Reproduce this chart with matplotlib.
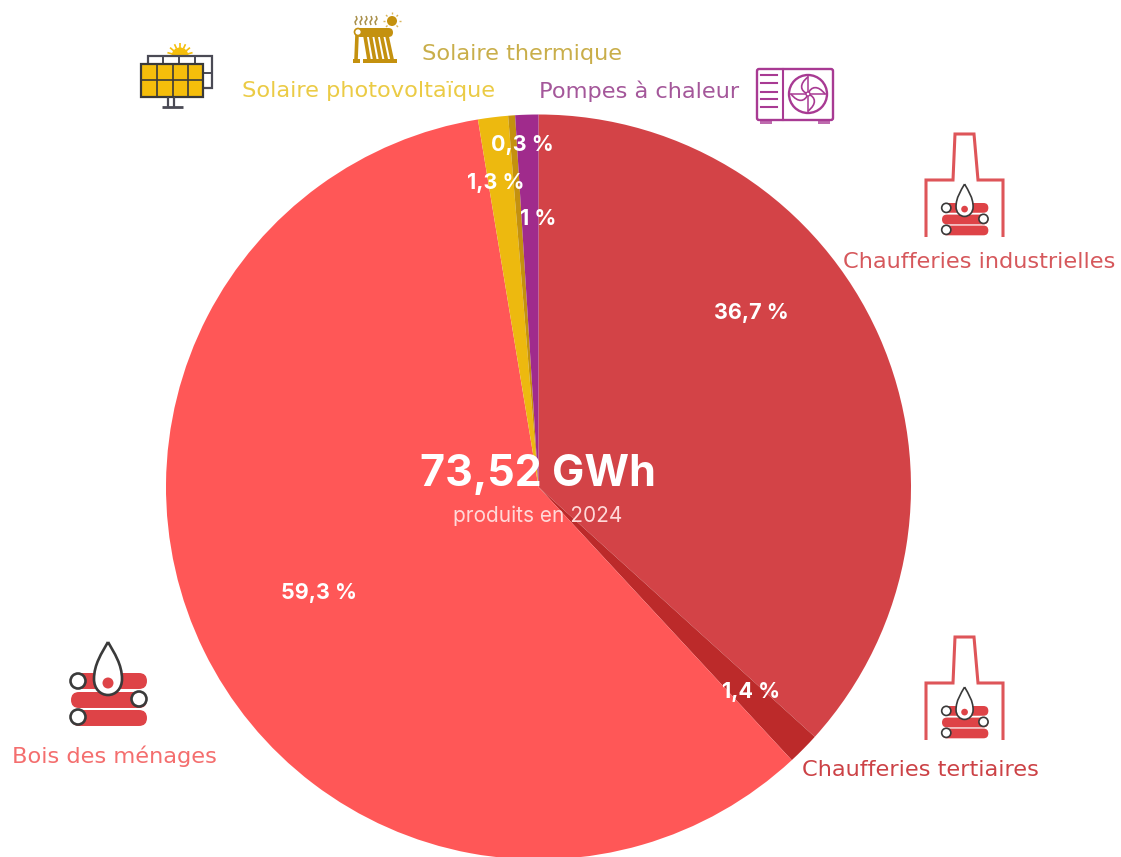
import math
import matplotlib
matplotlib.use('Agg')
import matplotlib.pyplot as plt
from matplotlib.patches import Circle, FancyBboxPatch, PathPatch, Rectangle, Wedge
from matplotlib.path import Path

# parts du total, sens horaire depuis midi
categories = ['Chaufferies industrielles', 'Chaufferies tertiaires', 'Bois des ménages',
              'Solaire photovoltaïque', 'Solaire thermique', 'Pompes à chaleur']
values = [36.7, 1.4, 59.3, 1.3, 0.3, 1.0]
value_labels = ['36,7 %', '1,4 %', '59,3 %', '1,3 %', '0,3 %', '1 %']
colors = ['#D34347', '#BC2A2A', '#FF5757', '#EDB90F', '#C4910F', '#A02B8C']

H = 857
plt.rcParams['font.family'] = ['Inter', 'DejaVu Sans']

fig = plt.figure(figsize=(11.21, 8.57), dpi=100)
ax = fig.add_axes([0, 0, 1, 1])


def Y(py):
    return H - py


ax.pie(values, colors=colors, startangle=90, counterclock=False,
       center=(538.5, Y(487)), radius=372.5, frame=True)
ax.set_xlim(0, 1121)
ax.set_ylim(0, H)
ax.set_aspect('auto')
ax.axis('off')

# pourcentages
label_pos = [(751, 313), (751, 692), (319, 593), (496, 183), (522, 145), (538, 219)]
for lab, (x, y) in zip(value_labels, label_pos):
    ax.text(x, Y(y), lab, color='white', fontsize=15.5, fontweight='bold', ha='center', va='center')

ax.text(538, Y(474), '73,52 GWh', color='white', fontsize=31, fontweight='bold', ha='center', va='center')
ax.text(538, Y(516), 'produits en 2024', color='#FFD9D9', fontsize=15, ha='center', va='center')

# libellés
name_pos = [(843, 262), (802, 770), (12, 756), (242, 91), (422, 54), (539, 91)]
name_colors = ['#D6585C', '#CC4246', '#F46E6E', '#EBCB45', '#C9AE4A', '#A4579A']
for (x, y), txt, c in zip(name_pos, categories, name_colors):
    ax.text(x, Y(y), txt, color=c, fontsize=16.2, family=['DejaVu Sans'], ha='left', va='center')


def line(points, color, lw, z=3):
    ax.plot([p[0] for p in points], [Y(p[1]) for p in points], color=color, lw=lw,
            solid_capstyle='butt', solid_joinstyle='miter', zorder=z)


def rbar(x, y, w, h, color):
    ax.add_patch(FancyBboxPatch((x + h / 2, Y(y + h / 2)), w - h, 0.01,
                                boxstyle=f'round,pad={h / 2 - 0.01}', fc=color, ec='none'))


def flame(cx, top, bottom, half, lw):
    mid = top + (bottom - top) * 0.7
    up = mid - top
    low = bottom - mid
    verts = [(cx, Y(top)),
             (cx + half * 0.45, Y(top + up * 0.3)), (cx + half, Y(mid - up * 0.4)), (cx + half, Y(mid)),
             (cx + half, Y(mid + low * 0.6)), (cx + half * 0.55, Y(bottom)), (cx, Y(bottom)),
             (cx - half * 0.55, Y(bottom)), (cx - half, Y(mid + low * 0.6)), (cx - half, Y(mid)),
             (cx - half, Y(mid - up * 0.4)), (cx - half * 0.45, Y(top + up * 0.3)), (cx, Y(top))]
    codes = [Path.MOVETO] + [Path.CURVE4] * 12
    ax.add_patch(PathPatch(Path(verts, codes), fc='white', ec='#3A3A3A', lw=lw, zorder=4))


def wood(x0, y0, s, lw):
    # trois bûches, flamme et anneaux; s = échelle, icône de 76 px de large à s=1
    c = '#DE4347'
    for dy in (0, 19, 37):
        rbar(x0, y0 + dy * s, 76 * s, 16 * s, c)
    flame(x0 + 37 * s, y0 - 31 * s, y0 + 22 * s, 14 * s, lw)
    ax.add_patch(Circle((x0 + 37 * s, Y(y0 + 10 * s)), 5.5 * s, fc=c, ec='none', zorder=5))
    for cx, cy in ((7, 8), (68, 26), (7, 44)):
        ax.add_patch(Circle((x0 + cx * s, Y(y0 + cy * s)), 7.5 * s, fc='white', ec='#3A3A3A',
                            lw=lw, zorder=5))


def boiler(ox, oy):
    c = '#DE5559'
    pts = [(ox + 1, oy + 103), (ox + 1, oy + 46), (ox + 28, oy + 46), (ox + 30, oy + 0),
           (ox + 49, oy + 0), (ox + 53, oy + 46), (ox + 78, oy + 46), (ox + 78, oy + 103)]
    line(pts, c, 2.2)
    wood(ox + 17, oy + 69, 0.61, 1.2)


boiler(925, 134)
boiler(925, 637)
wood(71, 673, 1.0, 1.9)

# panneau photovoltaïque
sun = '#F5BE0B'
ax.add_patch(Wedge((180, Y(56)), 8.5, 0, 180, fc=sun, ec='none'))
for a in (15, 40, 65, 90, 115, 140, 165):
    dx, dy = math.cos(math.radians(a)), math.sin(math.radians(a))
    line([(180 + 8 * dx, 56 - 8 * dy), (180 + 13 * dx, 56 - 13 * dy)], sun, 1.2)
ax.add_patch(Rectangle((148, Y(88)), 64, 32, fc='white', ec='#4A4A55', lw=1.6, zorder=2))
for x in (163, 179, 195):
    line([(x, 56), (x, 65)], '#4A4A55', 1.4)
line([(203, 73), (212, 73)], '#4A4A55', 1.4)
ax.add_patch(Rectangle((141, Y(97)), 62, 33, fc=sun, ec='#3A3A3A', lw=1.6, zorder=3))
for x in (157, 173, 188):
    ax.plot([x, x], [Y(64), Y(97)], color='#3A3A3A', lw=1.2, zorder=4)
ax.plot([141, 203], [Y(80), Y(80)], color='#3A3A3A', lw=1.2, zorder=4)
line([(168, 97), (168, 107)], '#4A4A55', 1.6)
line([(174, 97), (174, 107)], '#4A4A55', 1.6)
line([(162, 107), (183, 107)], '#4A4A55', 2)

# capteur thermique
g = '#C4910F'
rbar(356, 28, 37, 9, g)
ax.add_patch(Circle((358, Y(32)), 3.5, fc='white', ec=g, lw=1.2, zorder=4))
for i in range(5):
    line([(365 + i * 5.5, 36), (369 + i * 5.8, 60)], g, 2.6)
line([(357, 35), (356, 60)], g, 2.6)
ax.add_patch(Rectangle((363, Y(63)), 34, 4, fc=g, ec='none'))
ax.add_patch(Rectangle((353, Y(63)), 7, 4, fc=g, ec='none'))
for x in range(356, 381, 5):
    line([(x, 16), (x + 1, 19), (x - 1, 22), (x, 25)], '#A98F4A', 1.1)
ax.add_patch(Circle((392, Y(21)), 5, fc=g, ec='none'))
for dx, dy in ((0, -9), (6, -6), (9, 0), (6, 6), (-6, -6), (-9, 0), (-6, 6)):
    line([(392 + dx * 0.75, 21 + dy * 0.75), (392 + dx, 21 + dy)], '#D9B45A', 1.0)

# pompe à chaleur
p = '#A83A93'
ax.add_patch(FancyBboxPatch((759, Y(118)), 72, 47, boxstyle='round,pad=2', fc='white', ec=p, lw=1.7))
ax.plot([783, 783], [Y(69), Y(120)], color=p, lw=1.5)
for y in (75, 83, 92, 99, 107):
    ax.plot([761, 777], [Y(y), Y(y)], color=p, lw=1.5)
ax.add_patch(Circle((808, Y(94)), 19, fc='white', ec=p, lw=1.7))
for a in (0, 90, 180, 270):
    r = math.radians(a)
    c, s = math.cos(r), math.sin(r)
    pts = [(17, 0), (10, 9), (3, 8), (0, 0)]
    blade = [(808 + x * c - y * s, Y(94) + x * s + y * c) for x, y in pts]
    ax.add_patch(PathPatch(Path(blade, [Path.MOVETO, Path.CURVE4, Path.CURVE4, Path.CURVE4]),
                           fc='none', ec=p, lw=1.2, zorder=4))
    ax.plot([808, 808 + 18 * c], [Y(94), Y(94) + 18 * s], color=p, lw=1.1, zorder=4)
ax.add_patch(Circle((808, Y(94)), 2, fc='white', ec=p, lw=1, zorder=5))
ax.add_patch(Rectangle((760, Y(124)), 12, 3.5, fc=p, ec='none', alpha=0.75))
ax.add_patch(Rectangle((818, Y(124)), 12, 3.5, fc=p, ec='none', alpha=0.75))

fig.savefig('out.png', dpi=100)
